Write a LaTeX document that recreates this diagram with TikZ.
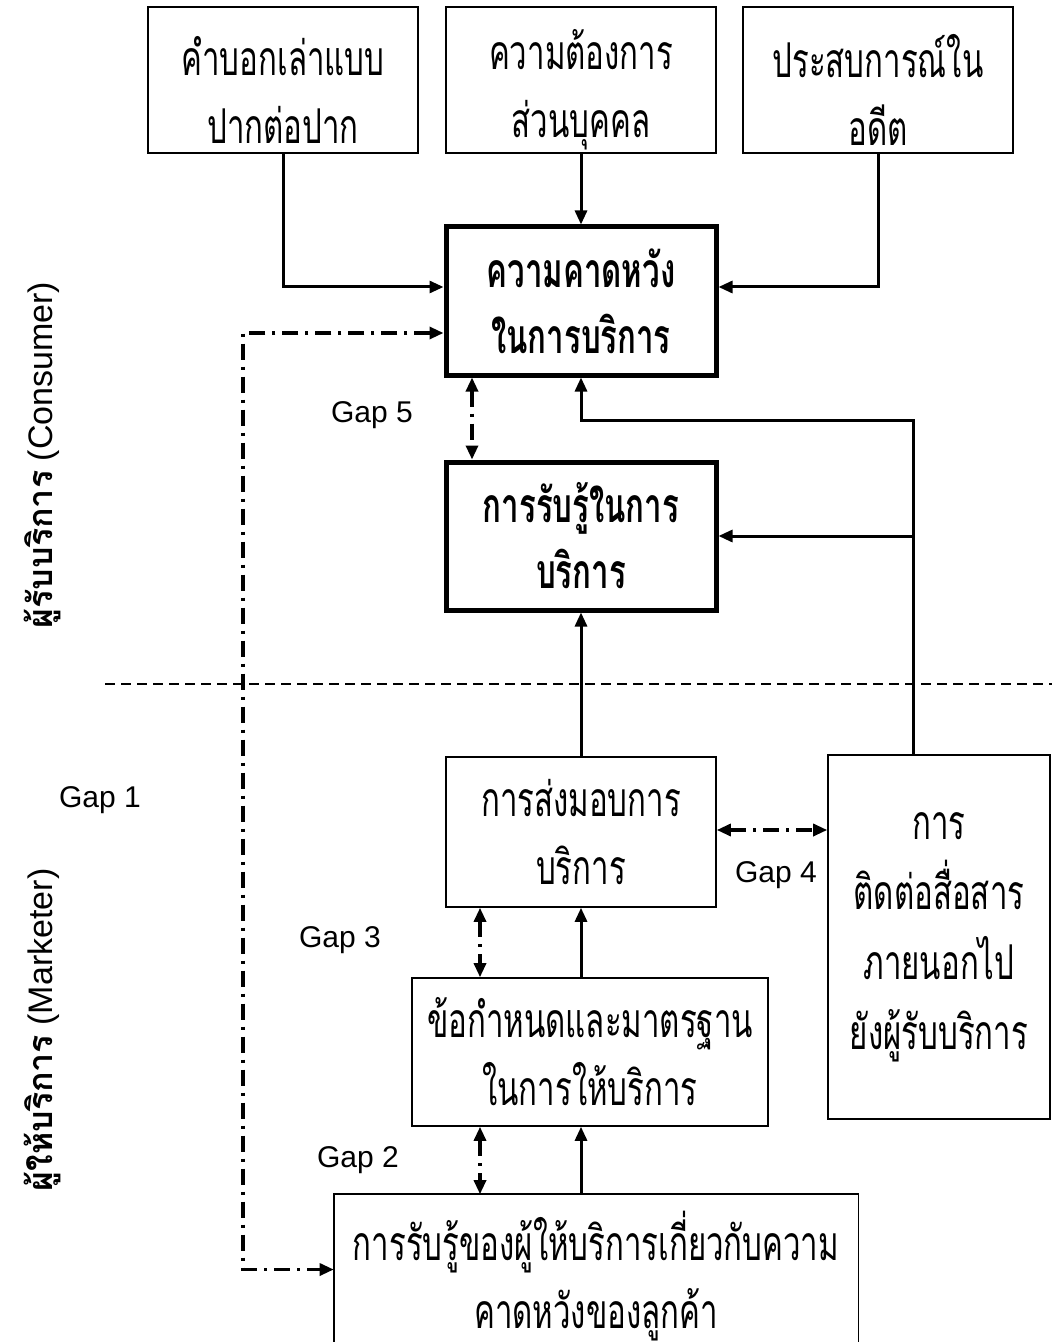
\documentclass[tikz,border=0pt]{standalone}
\usepackage{fontspec}
\setmainfont{Liberation Sans}
\newfontfamily\thaibox[Script=Thai,FakeStretch=0.65]{Loma}
\newfontfamily\thaiside[Script=Thai]{Loma}
\usetikzlibrary{arrows.meta}

\begin{document}
\begin{tikzpicture}[x=0.5pt, y=-0.5pt, >={Triangle[length=7pt,width=6pt]},
    box/.style={draw, line width=0.8pt, minimum width=135pt, minimum height=73pt,
      inner sep=0pt, align=center, font=\thaibox\fontsize{24}{34}\selectfont},
    keybox/.style={box, line width=2.5pt, font=\thaibox\bfseries\fontsize{24}{33}\selectfont},
    boxtext/.style={inner sep=0pt, align=center, font=\thaibox\fontsize{24}{34}\selectfont},
    flow/.style={line width=1.5pt, ->},
    gapflow/.style={line width=1.6pt, <->, dash pattern=on 8pt off 3.5pt on 1.5pt off 3.5pt},
    gaplabel/.style={font=\fontsize{15}{18}\selectfont},
    side/.style={rotate=90, font=\fontsize{17}{20}\selectfont}]
    \useasboundingbox (0,0) rectangle (1052,1342);
    \clip (0,0) rectangle (1052,1342);

    % --- 1. Sources of expectation ---
    \node[box, label={[boxtext, yshift=-5pt]center:{คำบอกเล่าแบบ\\ปากต่อปาก}}] (wom) at (283,80) {};
    \node[box, label={[boxtext, yshift=-5pt]center:{ความต้องการ\\ส่วนบุคคล}}] (need) at (581,80) {};
    \node[box, label={[boxtext, yshift=-5pt]center:{ประสบการณ์ใน\\อดีต}}] (past) at (878,80) {};

    % --- 2. Consumer side ---
    \node[keybox, minimum height=74pt] (expect) at (581,301) {ความคาดหวัง\\ในการบริการ};
    \node[keybox, minimum height=74pt] (percv)  at (581,536) {การรับรู้ในการ\\บริการ};

    % --- 3. Marketer side ---
    \node[box, minimum height=75pt] (deliver) at (581,832) {การส่งมอบการ\\บริการ};
    \node[box, minimum width=111pt, minimum height=182pt,
      font=\thaibox\fontsize{24}{35}\selectfont] (comm) at (939,937)
      {การ\\ติดต่อสื่อสาร\\ภายนอกไป\\ยังผู้รับบริการ};
    \node[box, minimum width=178pt, minimum height=74pt] (std) at (590,1052)
      {ข้อกำหนดและมาตรฐาน\\ในการให้บริการ};
    % the last box runs off the bottom edge, so no bottom line
    \node[box, draw=none, minimum width=261.5pt, minimum height=73.5pt,
      label={[boxtext, yshift=-4pt]center:{การรับรู้ของผู้ให้บริการเกี่ยวกับความ\\คาดหวังของลูกค้า}}]
      (mgr) at (596,1268.5) {};
    \draw[line width=0.8pt] (mgr.south west) |- (mgr.north east) -- (mgr.south east);

    % --- 4. Solid flows ---
    \draw[flow] (wom.south) |- ([yshift=7pt]expect.west);
    \draw[flow] (need.south) -- (expect.north);
    \draw[flow] (past.south) |- ([yshift=7pt]expect.east);
    \draw[flow] (deliver.north) -- (percv.south);
    \draw[flow] (std.north -| deliver.north) -- (deliver.south);
    \draw[flow] (mgr.north -| deliver.north) -- (std.south -| deliver.north);

    % feedback from external communication
    \coordinate (fb) at (913,420);
    \draw[flow] (fb |- comm.north) -- (fb) -| (expect.south);
    \draw[flow] (fb |- percv.east) -- (percv.east);

    % --- 5. Gaps ---
    \coordinate (g5) at (472,0);
    \coordinate (g23) at (480,0);
    \coordinate (lx) at (243,800);
    \draw[gapflow] (g5 |- expect.south) -- (g5 |- percv.north);
    \draw[gapflow] (g23 |- deliver.south) -- (g23 |- std.north);
    \draw[gapflow] (g23 |- std.south) -- (g23 |- mgr.north);
    \draw[gapflow] ([yshift=1pt]deliver.east) -- ([yshift=1pt]deliver.east -| comm.west);
    \draw[gapflow] ([yshift=-16pt]expect.west) -| (lx) |- ([yshift=-0.5pt]mgr.west);

    \node[gaplabel] (gap5) at (372,415) {Gap 5};
    \node[gaplabel] (gap1) at (100,800) {Gap 1};
    \node[gaplabel] (gap4) at (776,875) {Gap 4};
    \node[gaplabel] (gap3) at (340,940) {Gap 3};
    \node[gaplabel] (gap2) at (358,1160) {Gap 2};

    % --- 6. Consumer / marketer split ---
    \draw[line width=0.8pt, dash pattern=on 5pt off 3pt] (105,684) -- (1052,684);
    \node[side] (consumer) at (42,455) {{\thaiside\bfseries ผู้รับบริการ} (Consumer)};
    \node[side] (marketer) at (42,1030) {{\thaiside\bfseries ผู้ให้บริการ} (Marketer)};
\end{tikzpicture}
\end{document}
